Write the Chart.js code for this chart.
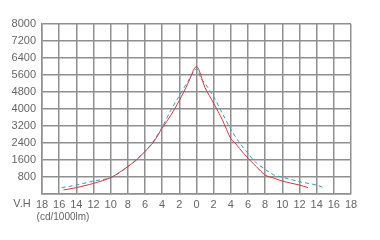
<!DOCTYPE html>
<html>
<head>
<meta charset="utf-8">
<script src="https://cdn.jsdelivr.net/npm/chart.js@4"></script>
<style>
  body { margin: 0; background: #fff; }
  canvas { display: block; }
</style>
</head>
<body>
<canvas id="chart" width="380" height="240"></canvas>
<script>
// angles (deg) and intensity (cd/1000lm)
const redAngles = [-15.5, -14, -12, -10, -8, -7, -6, -5, -4, -3, -2, -1, 0, 1, 2, 3, 4, 4.5, 5, 6, 7, 8, 9, 10, 11, 12, 13];
const redValues = [190, 300, 500, 770, 1290, 1600, 2000, 2450, 3100, 3700, 4400, 5200, 6000, 5000, 4270, 3500, 2600, 2400, 2150, 1680, 1280, 890, 750, 610, 510, 420, 300];

const blueAngles = [-15.7, -14, -12, -10, -8, -6, -5, -4, -3, -2, -1, 0, 0.5, 1, 2, 3, 4, 5, 6, 7, 8, 9, 10, 12, 14, 15];
const blueValues = [300, 420, 610, 770, 1290, 2000, 2500, 3150, 3930, 4620, 5300, 5900, 5450, 5200, 4580, 3800, 3050, 2420, 1910, 1450, 1160, 900, 790, 580, 420, 270];

const xTicks = [-18, -16, -14, -12, -10, -8, -6, -4, -2, 0, 2, 4, 6, 8, 10, 12, 14, 16, 18];
const yTicks = [0, 800, 1600, 2400, 3200, 4000, 4800, 5600, 6400, 7200, 8000];

const toPoints = (xs, ys) => xs.map((x, i) => ({ x: x, y: ys[i] }));

const gridColor = '#8f8f8f';
const textColor = '#666';
const font = { family: 'Liberation Sans', size: 11 };

// extra axis captions
const captions = {
  id: 'captions',
  afterDraw(chart) {
    const ctx = chart.ctx;
    ctx.save();
    ctx.fillStyle = textColor;
    ctx.font = '11px "Liberation Sans"';
    ctx.textAlign = 'center';
    ctx.textBaseline = 'middle';
    ctx.fillText('V.H', 22, 204);
    ctx.font = '10px "Liberation Sans"';
    ctx.fillText('(cd/1000lm)', 63, 217);
    ctx.restore();
  }
};

new Chart(document.getElementById('chart'), {
  type: 'line',
  data: {
    datasets: [{
      data: toPoints(redAngles, redValues),
      borderColor: '#cc3b3b',
      borderWidth: 1,
      pointRadius: 0,
      tension: 0.3,
      fill: false
    }, {
      data: toPoints(blueAngles, blueValues),
      borderColor: '#3a9cbf',
      borderWidth: 1,
      borderDash: [4, 3],
      pointRadius: 0,
      tension: 0.3,
      fill: false
    }]
  },
  options: {
    responsive: false,
    animation: false,
    layout: { padding: { top: 24, right: 29, left: 0, bottom: 0 } },
    plugins: { legend: { display: false }, tooltip: { enabled: false } },
    scales: {
      x: {
        type: 'linear',
        min: -18,
        max: 18,
        afterBuildTicks: scale => { scale.ticks = xTicks.map(v => ({ value: v })); },
        afterFit: scale => { scale.height = 46; },
        ticks: {
          color: textColor,
          font: font,
          padding: 4,
          maxRotation: 0,
          autoSkip: false,
          callback: v => Math.abs(v)
        },
        grid: { color: gridColor, lineWidth: 1.5, drawTicks: false },
        border: { color: gridColor, width: 1.5 }
      },
      y: {
        min: 0,
        max: 8000,
        afterBuildTicks: scale => { scale.ticks = yTicks.map(v => ({ value: v })); },
        afterFit: scale => { scale.width = 42; },
        ticks: {
          color: textColor,
          font: font,
          padding: 6,
          autoSkip: false,
          callback: v => v === 0 ? '' : v
        },
        grid: { color: gridColor, lineWidth: 1.5, drawTicks: false },
        border: { color: gridColor, width: 1.5 }
      }
    }
  },
  plugins: [captions]
});
</script>
</body>
</html>
